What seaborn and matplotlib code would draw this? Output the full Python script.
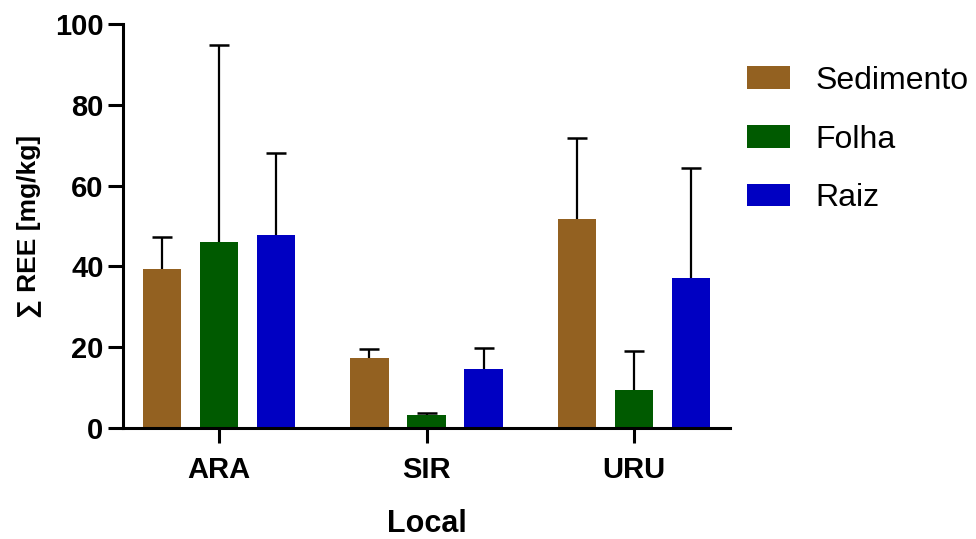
import numpy as np
import pandas as pd
import matplotlib
matplotlib.use('Agg')
import matplotlib.pyplot as plt
import seaborn as sns
from matplotlib.patches import Patch

# Data
locais = ['ARA', 'SIR', 'URU']
series = ['Sedimento', 'Folha', 'Raiz']
sedimento = [39.4, 17.4, 51.8]
folha = [46.0, 3.3, 9.3]
raiz = [47.8, 14.5, 37.2]
# upper error (SD)
sedimento_sd = [7.8, 2.1, 20.0]
folha_sd = [48.7, 0.3, 9.8]
raiz_sd = [20.3, 5.4, 27.2]

colors = ['#936121', '#005a00', '#0000c2']

df = pd.DataFrame({
    'Local': locais * 3,
    'Tipo': np.repeat(series, 3),
    'REE': sedimento + folha + raiz,
    'SD': sedimento_sd + folha_sd + raiz_sd,
})

sns.set_style('ticks')
plt.rcParams['font.family'] = ['Liberation Sans', 'DejaVu Sans']
plt.rcParams['text.color'] = 'black'
plt.rcParams['axes.labelcolor'] = 'black'
plt.rcParams['xtick.color'] = 'black'
plt.rcParams['ytick.color'] = 'black'
plt.rcParams['axes.edgecolor'] = 'black'

fig = plt.figure(figsize=(9.76, 5.39), dpi=100)
ax = fig.add_axes([0.126, 0.206, 0.622, 0.7495])

sns.barplot(data=df, x='Local', y='REE', hue='Tipo', hue_order=series,
            order=locais, palette=colors, width=0.825, gap=0.33,
            errorbar=None, saturation=1, legend=False, ax=ax,
            edgecolor='none', linewidth=0)

# upward-only error bars, Prism style
for cont, name in zip(ax.containers, series):
    sd = df[df['Tipo'] == name].set_index('Local').loc[locais, 'SD'].values
    for bar, e in zip(cont, sd):
        xc = bar.get_x() + bar.get_width() / 2
        h = bar.get_height()
        ax.plot([xc, xc], [h, h + e], color='black', lw=1.6, solid_capstyle='butt', zorder=3)
        ax.plot([xc], [h + e], marker='_', markersize=14, markeredgewidth=1.8,
                color='black', zorder=3)

ax.set_ylim(0, 100)
ax.set_xlim(-0.464, 2.464)
ax.set_yticks([0, 20, 40, 60, 80, 100])
sns.despine(ax=ax)
for s in ['left', 'bottom']:
    ax.spines[s].set_linewidth(2.2)
ax.tick_params(axis='both', length=11, width=2.2, labelsize=21, pad=3)
ax.tick_params(axis='x', pad=9)
for lab in ax.get_xticklabels() + ax.get_yticklabels():
    lab.set_fontweight('bold')

ax.set_xlabel('Local', fontsize=22, fontweight='bold', labelpad=18)
ax.set_ylabel('∑ REE [mg/kg]', fontsize=19, fontweight='bold', labelpad=10)

handles = [Patch(facecolor=c, edgecolor='none') for c in colors]
fig.legend(handles, series, loc='upper left', bbox_to_anchor=(0.765, 0.878),
           frameon=False, fontsize=23, handlelength=1.35, handleheight=0.7,
           handletextpad=0.8, labelspacing=0.9, borderpad=0, borderaxespad=0)

fig.savefig('out.png', dpi=100)
